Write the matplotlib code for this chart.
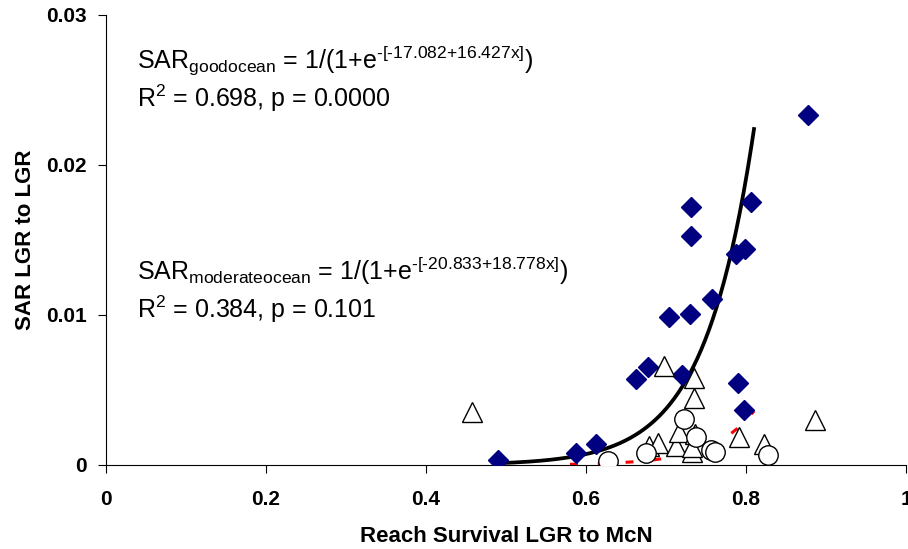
import numpy as np
import matplotlib
matplotlib.use("Agg")
import matplotlib.pyplot as plt

plt.rcParams['font.family'] = ['Liberation Sans', 'DejaVu Sans']
plt.rcParams['mathtext.fontset'] = 'custom'
plt.rcParams['mathtext.rm'] = 'Liberation Sans'
plt.rcParams['mathtext.it'] = 'Liberation Sans:italic'
plt.rcParams['mathtext.bf'] = 'Liberation Sans:bold'

# good ocean years (filled diamonds)
good_x = [0.490, 0.588, 0.6125, 0.663, 0.678, 0.704, 0.720, 0.730, 0.731, 0.731,
          0.757, 0.788, 0.790, 0.797, 0.799, 0.806, 0.878]
good_y = [0.00033, 0.00078, 0.0014, 0.00571, 0.00655, 0.00984, 0.0060, 0.01007, 0.01529, 0.01718,
          0.01107, 0.01404, 0.00545, 0.00367, 0.0144, 0.01756, 0.02333]

# moderate ocean years (open triangles)
moderate_x = [0.457, 0.679, 0.690, 0.697, 0.712, 0.716, 0.732, 0.733, 0.735, 0.735,
              0.736, 0.791, 0.822, 0.886]
moderate_y = [0.00355, 0.0013, 0.0015, 0.0066, 0.0013, 0.0022, 0.0009, 0.0012, 0.0058, 0.0045,
              0.0021, 0.0019, 0.0014, 0.0030]

# poor ocean years (open circles)
poor_x = [0.628, 0.675, 0.722, 0.738, 0.756, 0.761, 0.828]
poor_y = [0.0003, 0.0008, 0.0031, 0.0019, 0.0010, 0.0009, 0.0007]

# logistic fits shown on the chart
good_coef = (-17.082, 16.427)
good_range = (0.49, 0.81)
moderate_coef = (-20.833, 18.778)
moderate_range = (0.58, 0.81)

x_ticks = [0, 0.2, 0.4, 0.6, 0.8, 1]
x_ticklabels = ['0', '0.2', '0.4', '0.6', '0.8', '1']
y_ticks = [0, 0.01, 0.02, 0.03]
y_ticklabels = ['0', '0.01', '0.02', '0.03']


def logistic(x, coef):
    return 1.0 / (1.0 + np.exp(-(coef[0] + coef[1] * x)))


fig = plt.figure(figsize=(9.08, 5.49), dpi=100)
ax = fig.add_axes([106 / 908, 84 / 549, 800 / 908, 450 / 549])

xm = np.linspace(*moderate_range, 200)
ax.plot(xm, logistic(xm, moderate_coef), color='red', lw=2.2,
        linestyle=(0, (2.6, 6.5)), zorder=1)
xg = np.linspace(*good_range, 200)
ax.plot(xg, logistic(xg, good_coef), color='black', lw=2.7, zorder=2)

ax.plot(good_x, good_y, 'D', ms=10, color='#000080', mec='#000080', zorder=3)
ax.plot(moderate_x, moderate_y, '^', ms=14, mfc='white', mec='black', mew=1.0, zorder=4)
ax.plot(poor_x, poor_y, 'o', ms=14, mfc='white', mec='black', mew=1.0, zorder=5)

ax.set_xlim(0, 1)
ax.set_ylim(0, 0.03)
ax.set_xticks(x_ticks)
ax.set_xticklabels(x_ticklabels)
ax.set_yticks(y_ticks)
ax.set_yticklabels(y_ticklabels)

for side in ['top', 'right']:
    ax.spines[side].set_visible(False)
for side in ['left', 'bottom']:
    ax.spines[side].set_linewidth(0.8)

ax.tick_params(axis='x', direction='out', length=6, width=0.8, pad=12, labelsize=15)
ax.tick_params(axis='y', direction='out', length=6, width=0.8, pad=8, labelsize=15)
for lab in ax.get_xticklabels() + ax.get_yticklabels():
    lab.set_fontweight('bold')

ax.set_xlabel('Reach Survival LGR to McN', fontsize=16, fontweight='bold', labelpad=12)
ax.set_ylabel('SAR LGR to LGR', fontsize=16, fontweight='bold', labelpad=7)

ax.text(0.039, 0.02647,
        r'SAR$_{\text{goodocean}}$ = 1/(1+e$^{\text{-[-17.082+16.427x]}}$)',
        fontsize=18, va='baseline', ha='left')
ax.text(0.039, 0.02387, r'R$^{2}$ = 0.698, p = 0.0000',
        fontsize=18, va='baseline', ha='left')
ax.text(0.039, 0.01233,
        r'SAR$_{\text{moderateocean}}$ = 1/(1+e$^{\text{-[-20.833+18.778x]}}$)',
        fontsize=18, va='baseline', ha='left')
ax.text(0.039, 0.0098, r'R$^{2}$ = 0.384, p = 0.101',
        fontsize=18, va='baseline', ha='left')

fig.savefig('out.png', dpi=100)
